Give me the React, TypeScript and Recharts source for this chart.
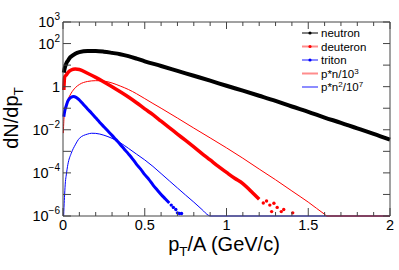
import { ComposedChart, Line, XAxis, YAxis } from "recharts";

// values (log scale y)
const neutron = [
  [0.005, 4.5], [0.01, 7], [0.02, 12], [0.03, 16], [0.04, 21], [0.05, 25], [0.075, 34], [0.1, 40],
  [0.15, 45], [0.2, 45], [0.25, 42], [0.3, 37], [0.35, 32], [0.4, 26], [0.45, 20], [0.5, 15],
  [0.6, 9.1], [0.7, 5.4], [0.8, 3.2], [0.9, 1.9], [1.0, 1.1], [1.1, 0.65], [1.2, 0.38], [1.3, 0.22],
  [1.4, 0.12], [1.5, 0.068], [1.6, 0.037], [1.7, 0.021], [1.8, 0.0115], [1.9, 0.0065], [2.0, 0.0035],
];
const deuteron = [
  [0.005, 0.7], [0.01, 2.8], [0.02, 3.5], [0.03, 4.5], [0.05, 5.9], [0.075, 6.6], [0.1, 6.3],
  [0.15, 4.2], [0.2, 2.7], [0.25, 1.66], [0.3, 1.0], [0.35, 0.58], [0.4, 0.33], [0.45, 0.18],
  [0.5, 0.093], [0.55, 0.05], [0.6, 0.025], [0.65, 0.0126], [0.7, 6.3e-3], [0.75, 3.2e-3],
  [0.8, 1.6e-3], [0.85, 7.9e-4], [0.9, 4.0e-4], [0.95, 2.0e-4], [1.0, 1.05e-4], [1.05, 5.6e-5],
  [1.1, 3.2e-5], [1.15, 1.4e-5], [1.2, 6e-6],
];
const deuteronTail = [
  [1.225, 4e-6], [1.245, 5e-6], [1.265, 3.2e-6], [1.276, 1.6e-6], [1.29, 3.9e-6], [1.31, 2.5e-6],
  [1.335, 1.6e-6], [1.35, 2e-6], [1.405, 1.4e-6],
];
const triton = [
  [0.005, 0.04], [0.01, 0.071], [0.02, 0.13], [0.03, 0.22], [0.05, 0.32], [0.065, 0.35], [0.08, 0.32],
  [0.1, 0.24], [0.125, 0.15], [0.15, 0.093], [0.175, 0.059], [0.2, 0.036], [0.225, 0.022],
  [0.25, 0.0138], [0.275, 8.7e-3], [0.3, 5.5e-3], [0.325, 3.4e-3], [0.35, 2.1e-3], [0.375, 1.26e-3],
  [0.4, 7.6e-4], [0.425, 4.5e-4], [0.45, 2.5e-4], [0.475, 1.5e-4], [0.5, 8.3e-5], [0.525, 5e-5],
  [0.55, 2.8e-5], [0.575, 1.66e-5], [0.6, 1e-5], [0.625, 6.3e-6], [0.65, 4e-6],
];
const tritonTail = [
  [0.662, 3.2e-6], [0.675, 2.5e-6], [0.69, 2e-6], [0.7, 1.4e-6], [0.712, 1.3e-6], [0.725, 1.3e-6],
];
const pn = [
  [0.002, 7e-3], [0.005, 0.025], [0.01, 0.071], [0.02, 0.16], [0.03, 0.25], [0.05, 0.5], [0.075, 0.89],
  [0.1, 1.26], [0.15, 1.74], [0.2, 1.9], [0.25, 1.82], [0.3, 1.48], [0.35, 1.07], [0.4, 0.74],
  [0.45, 0.47], [0.5, 0.28], [0.55, 0.166], [0.6, 0.1], [0.7, 0.035], [0.8, 0.012], [0.9, 4.2e-3],
  [1.0, 1.45e-3], [1.1, 4.8e-4], [1.2, 1.5e-4], [1.3, 4.8e-5], [1.4, 1.45e-5], [1.5, 4.4e-6],
  [1.6, 1.2e-6], [1.615, 1e-6], [2.0, 1e-6],
];
const pn2 = [
  [0.004, 1e-6], [0.006, 2.5e-6], [0.01, 1e-5], [0.015, 4e-5], [0.02, 8e-5], [0.03, 2.5e-4],
  [0.05, 8e-4], [0.075, 2e-3], [0.1, 4e-3], [0.15, 6.3e-3], [0.175, 6.9e-3], [0.2, 6.8e-3],
  [0.25, 5.6e-3], [0.3, 4e-3], [0.35, 2.5e-3], [0.4, 1.38e-3], [0.45, 7.4e-4], [0.5, 4e-4],
  [0.55, 2e-4], [0.6, 9.3e-5], [0.65, 4.3e-5], [0.7, 2e-5], [0.75, 9.3e-6], [0.8, 4.4e-6],
  [0.85, 2e-6], [0.89, 1.07e-6], [0.9, 1e-6], [2.0, 1e-6],
];

const X_MAJOR = [0, 0.5, 1, 1.5, 2];
const X_TICKS = [0, 0.1, 0.2, 0.3, 0.4, 0.5, 0.6, 0.7, 0.8, 0.9, 1, 1.1, 1.2, 1.3, 1.4, 1.5, 1.6, 1.7, 1.8, 1.9, 2];
const Y_TICKS = [1e-6, 1e-5, 1e-4, 1e-3, 1e-2, 1e-1, 1, 10, 100, 1000];
const Y_LABELED = [1e-6, 1e-4, 1e-2, 1, 100, 1000];
const Y_EXP = ["−6", "−4", "−2", "", "2", "3"];

const LEGEND = [
  { parts: ["neutron"], color: "#000000", marker: true },
  { parts: ["deuteron"], color: "#ff0000", marker: true },
  { parts: ["triton"], color: "#0000ff", marker: true },
  { parts: ["p*n/10", "3"], color: "#ff0000", marker: false },
  { parts: ["p*n", "2", "/10", "7"], color: "#0000ff", marker: false },
];

const AXIS = "#444";
const FONT = "'Liberation Sans', Arial, Helvetica, sans-serif";

const pts = (a: number[][]) => a.map(([x, y]) => ({ x, y }));

function BottomTick({ x, y, payload }: any) {
  const major = X_MAJOR.includes(payload.value);
  return (
    <g>
      <line x1={x} x2={x} y1={y} y2={y - (major ? 8 : 4)} stroke={AXIS} />
      {major && (
        <text x={x} y={y + 13.5} textAnchor="middle" fontSize={14.5} fontFamily={FONT} fill="#000">
          {payload.value}
        </text>
      )}
    </g>
  );
}

function TopTick({ x, y, payload }: any) {
  const major = X_MAJOR.includes(payload.value);
  return <line x1={x} x2={x} y1={y} y2={y + (major ? 7 : 4)} stroke={AXIS} />;
}

function LeftTick({ x, y, payload }: any) {
  const i = Y_LABELED.indexOf(payload.value);
  return (
    <g>
      <line x1={x} x2={x + 8} y1={y} y2={y} stroke={AXIS} />
      {i >= 0 && (
        <text x={x - 3} y={y + 5} textAnchor="end" fontSize={14.5} fontFamily={FONT} fill="#000">
          {Y_EXP[i] === "" ? "1" : "10"}
          {Y_EXP[i] !== "" && (
            <tspan dy={-7} fontSize={10}>
              {Y_EXP[i]}
            </tspan>
          )}
        </text>
      )}
    </g>
  );
}

function RightTick({ x, y }: any) {
  return <line x1={x} x2={x - 7} y1={y} y2={y} stroke={AXIS} />;
}

function Legend() {
  return (
    <g fontFamily={FONT} fontSize={11.5}>
      {LEGEND.map((l, i) => {
        const cy = 33 + i * 13.5;
        return (
          <g key={i}>
            <line x1={302} x2={318} y1={cy} y2={cy} stroke={l.color} strokeOpacity={l.color === "#000000" ? 1 : 0.45} strokeWidth={l.color === "#000000" ? 1 : 2} />
            {l.marker && <circle cx={310} cy={cy} r={1.6} fill={l.color} />}
            <text x={321} y={cy + 4} fill="#000">
              {l.parts.map((p, j) =>
                j % 2 ? (
                  <tspan key={j} dy={-4} fontSize={8}>{p}</tspan>
                ) : (
                  <tspan key={j} dy={j > 0 ? 4 : 0}>{p}</tspan>
                )
              )}
            </text>
          </g>
        );
      })}
    </g>
  );
}

export default function App() {
  const W = 399;
  const H = 270;
  return (
    <div style={{ position: "absolute", left: 0, top: 0, width: W, height: H, background: "#fff" }}>
      <ComposedChart width={W} height={H} margin={{ top: 21, right: 8, bottom: 0, left: 0 }}>
        <XAxis xAxisId="top" orientation="top" type="number" dataKey="x" domain={[0, 2]} ticks={X_TICKS}
          height={1} tickSize={0} tickMargin={0} tickLine={false} axisLine={{ stroke: AXIS }} tick={<TopTick />} interval={0} allowDataOverflow />
        <XAxis xAxisId="b" orientation="bottom" type="number" dataKey="x" domain={[0, 2]} ticks={X_TICKS}
          height={54} tickSize={0} tickMargin={0} tickLine={false} axisLine={{ stroke: AXIS }} tick={<BottomTick />} interval={0} />
        <YAxis yAxisId="l" orientation="left" scale="log" type="number" dataKey="y" domain={[1e-6, 1000]} ticks={Y_TICKS}
          width={63} tickSize={0} tickMargin={0} tickLine={false} axisLine={{ stroke: AXIS }} tick={<LeftTick />} interval={0} />
        <YAxis yAxisId="r" orientation="right" scale="log" type="number" dataKey="y" domain={[1e-6, 1000]} ticks={Y_TICKS}
          width={1} tickSize={0} tickMargin={0} tickLine={false} axisLine={{ stroke: AXIS }} tick={<RightTick />} interval={0} allowDataOverflow />

        {/* invisible copy so the top / right frame axes get drawn */}
        <Line data={pts(neutron)} dataKey="y" xAxisId="top" yAxisId="r" stroke="none" dot={false} isAnimationActive={false} />

        <Line data={pts(pn2)} dataKey="y" xAxisId="b" yAxisId="l" type="monotone" stroke="#0000ff" strokeWidth={1} dot={false} isAnimationActive={false} />
        <Line data={pts(pn)} dataKey="y" xAxisId="b" yAxisId="l" type="monotone" stroke="#ff0000" strokeWidth={1} dot={false} isAnimationActive={false} />
        <Line data={pts(triton)} dataKey="y" xAxisId="b" yAxisId="l" type="monotone" stroke="#0000ff" strokeWidth={3} dot={false} isAnimationActive={false} />
        <Line data={pts(tritonTail)} dataKey="y" xAxisId="b" yAxisId="l" stroke="none" dot={{ r: 1.7, fill: "#0000ff", stroke: "none" }} isAnimationActive={false} />
        <Line data={pts(deuteron)} dataKey="y" xAxisId="b" yAxisId="l" type="monotone" stroke="#ff0000" strokeWidth={3.5} dot={false} isAnimationActive={false} />
        <Line data={pts(deuteronTail)} dataKey="y" xAxisId="b" yAxisId="l" stroke="none" dot={{ r: 1.7, fill: "#ff0000", stroke: "none" }} isAnimationActive={false} />
        <Line data={pts(neutron)} dataKey="y" xAxisId="b" yAxisId="l" type="monotone" stroke="#000000" strokeWidth={4} dot={false} isAnimationActive={false} />
      </ComposedChart>
      <svg width={W} height={H} style={{ position: "absolute", left: 0, top: 0, pointerEvents: "none" }}>
        <Legend />
        <text x={224} y={251} textAnchor="middle" fontSize={20} fontFamily={FONT}>
          p<tspan dy={5} fontSize={13.5}>T</tspan><tspan dy={-5}>/A (GeV/c)</tspan>
        </text>
        <text transform="translate(18,118) rotate(-90)" textAnchor="middle" fontSize={20} fontFamily={FONT}>
          dN/dp<tspan dy={5} fontSize={13.5}>T</tspan>
        </text>
      </svg>
    </div>
  );
}
